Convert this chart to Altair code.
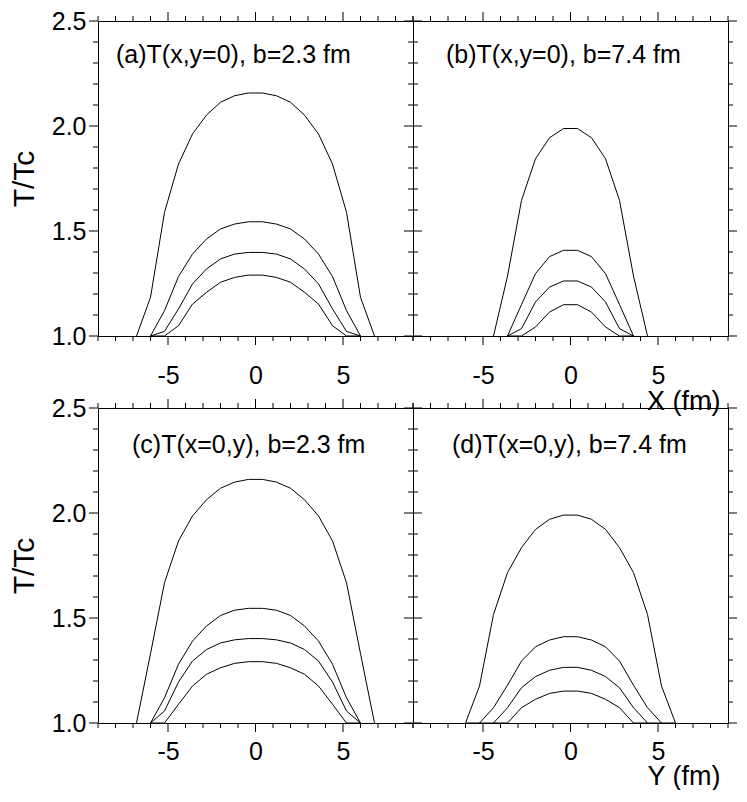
import altair as alt
import pandas as pd

# grid positions (fm)
X = [-6.8, -6.0, -5.2, -4.4, -3.6, -2.8, -2.0, -1.2, -0.4, 0.4, 1.2, 2.0, 2.8, 3.6, 4.4, 5.2, 6.0, 6.8]
N = None

# (a) T(x, y=0), b=2.3 fm
A1 = [1.000, 1.184, 1.589, 1.819, 1.962, 2.052, 2.113, 2.144, 2.157, 2.157, 2.144, 2.113, 2.052, 1.962, 1.819, 1.589, 1.184, 1.000]
A2 = [N, 1.000, 1.121, 1.283, 1.390, 1.462, 1.510, 1.533, 1.544, 1.544, 1.533, 1.510, 1.462, 1.390, 1.283, 1.121, 1.000, N]
A3 = [N, 1.000, 1.022, 1.129, 1.248, 1.319, 1.367, 1.390, 1.398, 1.398, 1.390, 1.367, 1.319, 1.248, 1.129, 1.022, 1.000, N]
A4 = [N, 1.000, 1.000, 1.049, 1.152, 1.208, 1.256, 1.279, 1.290, 1.290, 1.279, 1.256, 1.208, 1.152, 1.049, 1.000, 1.000, N]

# (b) T(x, y=0), b=7.4 fm
B1 = [N, N, N, 1.000, 1.285, 1.646, 1.844, 1.944, 1.988, 1.988, 1.944, 1.844, 1.646, 1.285, 1.000, N, N, N]
B2 = [N, N, N, N, 1.000, 1.150, 1.297, 1.378, 1.408, 1.408, 1.378, 1.297, 1.150, 1.000, N, N, N, N]
B3 = [N, N, N, N, 1.000, 1.035, 1.162, 1.233, 1.262, 1.262, 1.233, 1.162, 1.035, 1.000, N, N, N, N]
B4 = [N, N, N, N, 1.000, 1.000, 1.043, 1.114, 1.149, 1.149, 1.114, 1.043, 1.000, 1.000, N, N, N, N]

# (c) T(x=0, y), b=2.3 fm
C1 = [1.000, 1.330, 1.668, 1.867, 1.986, 2.063, 2.118, 2.147, 2.160, 2.160, 2.147, 2.118, 2.063, 1.986, 1.867, 1.668, 1.330, 1.000]
C2 = [N, 1.000, 1.120, 1.280, 1.390, 1.462, 1.512, 1.537, 1.546, 1.546, 1.537, 1.512, 1.462, 1.390, 1.280, 1.120, 1.000, N]
C3 = [N, 1.000, 1.057, 1.195, 1.295, 1.350, 1.381, 1.396, 1.402, 1.402, 1.396, 1.381, 1.350, 1.295, 1.195, 1.057, 1.000, N]
C4 = [N, 1.000, 1.000, 1.089, 1.176, 1.232, 1.263, 1.284, 1.292, 1.292, 1.284, 1.263, 1.232, 1.176, 1.089, 1.000, 1.000, N]

# (d) T(x=0, y), b=7.4 fm
D1 = [N, 1.000, 1.176, 1.517, 1.716, 1.835, 1.922, 1.970, 1.990, 1.990, 1.970, 1.922, 1.835, 1.716, 1.517, 1.176, 1.000, N]
D2 = [N, 1.000, 1.000, 1.073, 1.180, 1.295, 1.363, 1.395, 1.411, 1.411, 1.395, 1.363, 1.295, 1.180, 1.073, 1.000, 1.000, N]
D3 = [N, N, 1.000, 1.000, 1.073, 1.168, 1.221, 1.251, 1.265, 1.265, 1.251, 1.221, 1.168, 1.073, 1.000, 1.000, N, N]
D4 = [N, N, N, 1.000, 1.000, 1.073, 1.113, 1.141, 1.152, 1.152, 1.141, 1.113, 1.073, 1.000, 1.000, N, N, N]

LABELS = {
    "a": "(a)T(x,y=0), b=2.3 fm",
    "b": "(b)T(x,y=0), b=7.4 fm",
    "c": "(c)T(x=0,y), b=2.3 fm",
    "d": "(d)T(x=0,y), b=7.4 fm",
}
SERIES = {"a": [A1, A2, A3, A4], "b": [B1, B2, B3, B4],
          "c": [C1, C2, C3, C4], "d": [D1, D2, D3, D4]}

XMAJOR = [-5, 0, 5]
XMINOR = [-9, -8, -7, -6, -4, -3, -2, -1, 1, 2, 3, 4, 6, 7, 8, 9]
YMAJOR = [1.0, 1.5, 2.0, 2.5]
YMINOR = [1.1, 1.2, 1.3, 1.4, 1.6, 1.7, 1.8, 1.9, 2.1, 2.2, 2.3, 2.4]

FONT = "Liberation Sans"
W = 315
H = 315
MAJ = 9   # major tick length
MIN = 5   # minor tick length

rows = []
for key, curves in SERIES.items():
    for ci, vals in enumerate(curves):
        for xv, tv in zip(X, vals):
            if tv is not None:
                rows.append({"panel": key, "curve": ci, "x": xv, "T": tv})
df = pd.DataFrame(rows)

XLAB = "datum.value < 0 ? '-' + abs(datum.value) : '' + datum.value"
XSC = alt.Scale(domain=[-9, 9], nice=False, zero=False)
YSC = alt.Scale(domain=[1.0, 2.5], nice=False, zero=False)


def ticks(vals, side, length):
    d = pd.DataFrame({"v": vals})
    base = alt.Chart(d).mark_rule(color="black", strokeWidth=1)
    if side == "bottom":
        return base.encode(x=alt.X("v:Q", scale=XSC, axis=None),
                           y=alt.value(H), y2=alt.value(H + length))
    if side == "top":
        return base.encode(x=alt.X("v:Q", scale=XSC, axis=None),
                           y=alt.value(0), y2=alt.value(-length))
    if side == "left":
        return base.encode(y=alt.Y("v:Q", scale=YSC, axis=None),
                           x=alt.value(0), x2=alt.value(-length))
    return base.encode(y=alt.Y("v:Q", scale=YSC, axis=None),
                       x=alt.value(W), x2=alt.value(W + length))


def panel(key, lx, ly, left, lpad, xtitle, xtitle_y):
    d = df[df.panel == key]

    xkw = dict(orient="bottom", values=XMAJOR, ticks=False, tickSize=0,
               labelExpr=XLAB, labelFontSize=25, labelPadding=lpad,
               labelOverlap=False, labelFlush=False, domain=False)
    if xtitle:
        xkw.update(title=xtitle, titleFontSize=27, titleX=307, titleY=xtitle_y,
                   titleAlign="right", titleBaseline="alphabetic")
    else:
        xkw.update(title=None)
    if left:
        yax = alt.Axis(orient="left", values=YMAJOR, ticks=False, tickSize=0,
                       format=".1f", labelFontSize=25, labelPadding=12,
                       labelOverlap=False, labelFlush=False, domain=False,
                       title="T/Tc", titleFontSize=30, titlePadding=12)
    else:
        yax = None

    lines = alt.Chart(d).mark_line(color="black", strokeWidth=1).encode(
        x=alt.X("x:Q", scale=XSC, axis=alt.Axis(**xkw)),
        y=alt.Y("T:Q", scale=YSC, axis=yax),
        detail="curve:N")
    txt = alt.Chart(pd.DataFrame({"t": [LABELS[key]]})).mark_text(
        x=lx, y=ly, align="left", baseline="alphabetic", fontSize=25,
        font=FONT, color="black"
    ).encode(text="t:N")
    tick_layers = []
    for side in ["bottom", "top"]:
        tick_layers.append(ticks(XMINOR, side, MIN))
        tick_layers.append(ticks(XMAJOR, side, MAJ))
    for side in ["left", "right"]:
        tick_layers.append(ticks(YMINOR, side, MIN))
        tick_layers.append(ticks(YMAJOR, side, MAJ))
    return alt.layer(lines, *tick_layers, txt).resolve_axis(
        x="independent", y="independent"
    ).properties(width=W, height=H)


pa = panel("a", 18, 42, True, 27, None, 0)
pb = panel("b", 33, 42, False, 27, "X (fm)", 73)
pc = panel("c", 34, 45, True, 16, None, 0)
pd_ = panel("d", 39, 45, False, 16, "Y (fm)", 61)

chart = alt.concat(pa, pb, pc, pd_, columns=2, spacing={"row": 72, "column": 0},
                   bounds="flush").properties(
    padding={"left": 0, "top": 0, "right": 0, "bottom": 0}
).configure_axis(
    grid=False, labelFont=FONT, titleFont=FONT, labelColor="black",
    titleColor="black", titleFontWeight="normal"
).configure_view(stroke="black", strokeWidth=1)

chart.save("out.html", embed_options={"renderer": "svg", "actions": False})
